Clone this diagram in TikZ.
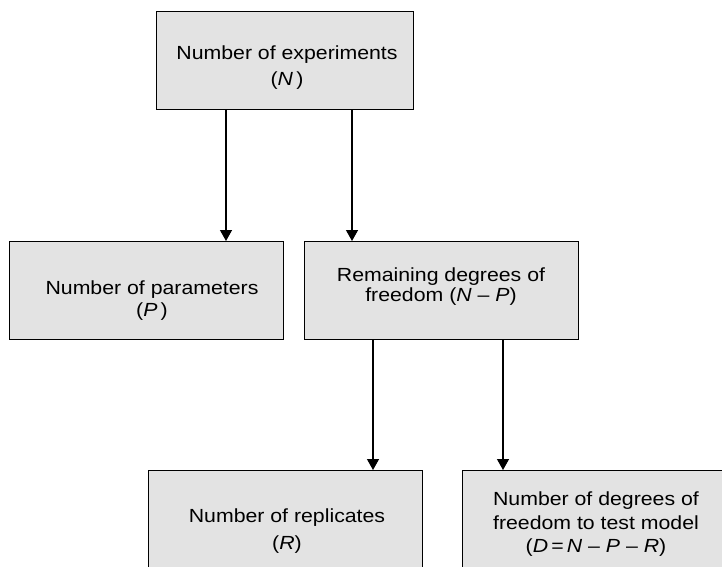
\documentclass[tikz,border=0pt]{standalone}
\usepackage{fontspec}
\setmainfont[FakeStretch=1.12]{Liberation Sans}
\usetikzlibrary{arrows.meta,calc}
\definecolor{boxgray}{HTML}{E3E3E3}
\tikzset{
  boxnode/.style={draw=black, line width=1.3pt, fill=boxgray, minimum width=#1, minimum height=98pt, inner sep=0pt, anchor=north west},
  boxnode/.default=274pt,
  txt/.style={align=center, inner sep=0pt, anchor=north, font={\fontsize{19pt}{#1}\selectfont\lineskiplimit-100pt\relax}},
  arr/.style={line width=1.3pt, -{Triangle[width=12pt,length=11pt]}}
}
\begin{document}
\begin{tikzpicture}[x=1pt,y=-1pt]
\useasboundingbox (0,0) rectangle (722,566);
\clip (0,0) rectangle (722,566);
% boxes
\node[boxnode=257pt] (top) at (156,11) {};
\node[boxnode] (par) at (9,241) {};
\node[boxnode] (rem) at (304,241) {};
\node[boxnode, minimum height=122pt] (rep) at (148,470) {};
\node[boxnode, minimum height=122pt] (dof) at (462,470) {};
% texts
\node[txt=26pt] (toptext) at (287,46) {Number of experiments\\(\textit{N}\,)};
\node[txt=21.5pt] (partext) at (152,281) {Number of parameters\\(\textit{P}\,)};
\node[txt=20pt] (remtext) at (441,268) {Remaining degrees of\\freedom (\textit{N} – \textit{P})};
\node[txt=27pt] (reptext) at (287,509) {Number of replicates\\(\textit{R})};
\node[txt=23.5pt] (doftext) at (596,492) {Number of degrees of\\freedom to test model\\(\textit{D}\,=\,\textit{N} – \textit{P} – \textit{R})};
% connectors
\coordinate (a1) at (226,0);
\coordinate (a2) at (352,0);
\coordinate (a3) at (373,0);
\coordinate (a4) at (503,0);
\draw[arr] (top.south -| a1) -- (par.north -| a1);
\draw[arr] (top.south -| a2) -- (rem.north -| a2);
\draw[arr] (rem.south -| a3) -- (rep.north -| a3);
\draw[arr] (rem.south -| a4) -- (dof.north -| a4);
\end{tikzpicture}
\end{document}
